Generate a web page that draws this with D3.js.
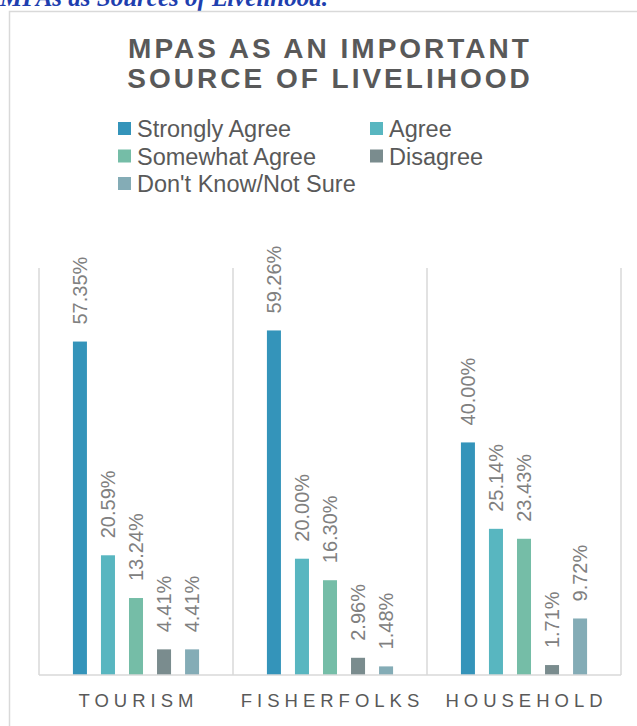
<!DOCTYPE html>
<html><head><meta charset="utf-8">
<script src="https://cdn.jsdelivr.net/npm/d3@7"></script>
<style>body{margin:0;background:#fff;overflow:hidden}</style>
</head><body>
<svg id="c" width="637" height="726"></svg>
<script>
const categories = ["TOURISM", "FISHERFOLKS", "HOUSEHOLD"];
const seriesNames = ["Strongly Agree", "Agree", "Somewhat Agree", "Disagree", "Don't Know/Not Sure"];
const stronglyAgree = [57.35, 59.26, 40.00];
const agree = [20.59, 20.00, 25.14];
const somewhatAgree = [13.24, 16.30, 23.43];
const disagree = [4.41, 2.96, 1.71];
const dontKnow = [4.41, 1.48, 9.72];
const colors = ["#3494BA", "#58B6C0", "#75BDA7", "#7A8C8E", "#84ACB6"];
const seriesValues = [stronglyAgree, agree, somewhatAgree, disagree, dontKnow];

(function () {
const svg = d3.select("#c");
const txt = "#595959";
const sans = "Liberation Sans, Arial, sans-serif";

// caption above chart (cropped at top)
svg.append("text").attr("x", 0).attr("y", 6)
  .attr("font-family", "Liberation Serif, serif").attr("font-weight", "bold")
  .attr("font-style", "italic").attr("font-size", 25).attr("fill", "#1F3FAF")
  .text("MPAs as Sources of Livelihood.");

// chart border
svg.append("rect").attr("x", 9.5).attr("y", 11.5).attr("width", 700).attr("height", 800)
  .attr("fill", "#fff").attr("stroke", "#d9d9d9").attr("stroke-width", 1.5);

// title
const tls = 3;
const title = svg.append("text").attr("text-anchor", "middle")
  .attr("font-family", sans).attr("font-weight", "bold")
  .attr("font-size", 28).attr("fill", txt).attr("letter-spacing", tls);
title.append("tspan").attr("x", 328.5 + tls / 2).attr("y", 58).text("MPAS AS AN IMPORTANT");
title.append("tspan").attr("x", 328.5 + tls / 2).attr("y", 88).text("SOURCE OF LIVELIHOOD");

// legend
const legendPos = [[118, 137], [370, 137], [118, 164.5], [370, 164.5], [118, 192]];
seriesNames.forEach((n, i) => {
  const [lx, ly] = legendPos[i];
  svg.append("rect").attr("x", lx).attr("y", ly - 15).attr("width", 13).attr("height", 13).attr("fill", colors[i]);
  svg.append("text").attr("x", lx + 19).attr("y", ly)
    .attr("font-family", sans).attr("font-size", 23.5)
    .attr("fill", txt).text(n);
});

// plot
const pLeft = 39, pRight = 621, pTop = 268, pBottom = 675;
const x0 = d3.scaleBand().domain(categories).range([pLeft, pRight]).padding(0);
const x1 = d3.scaleBand().domain(d3.range(seriesNames.length)).range([0, x0.bandwidth()]).paddingInner(0.5).paddingOuter(1.21);
const y = d3.scaleLinear().domain([0, 70]).range([pBottom, pTop]);

const sep = categories.map(c => x0(c)).concat([pRight]);
svg.selectAll(".sep").data(sep).enter().append("line")
  .attr("x1", d => d).attr("x2", d => d).attr("y1", pTop).attr("y2", pBottom)
  .attr("stroke", "#d9d9d9").attr("stroke-width", 1.5);

categories.forEach((c, ci) => {
  seriesValues.forEach((vals, si) => {
    const bx = x0(c) + x1(si);
    const bw = x1.bandwidth();
    svg.append("rect").attr("x", bx).attr("y", y(vals[ci]))
      .attr("width", bw).attr("height", pBottom - y(vals[ci])).attr("fill", colors[si]);
    svg.append("text")
      .attr("transform", `translate(${bx + bw / 2 + 7},${y(vals[ci]) - 17}) rotate(-90)`)
      .attr("font-family", sans).attr("font-size", 20)
      .attr("fill", "#808080").text(vals[ci].toFixed(2) + "%");
  });
});

svg.append("line").attr("x1", pLeft).attr("x2", pRight).attr("y1", pBottom).attr("y2", pBottom)
  .attr("stroke", "#d9d9d9").attr("stroke-width", 1.5);

const cls = 5;
svg.selectAll(".cat").data(categories).enter().append("text")
  .attr("x", d => x0(d) + x0.bandwidth() / 2 + cls / 2).attr("y", 707)
  .attr("text-anchor", "middle").attr("font-family", sans)
  .attr("font-size", 18.5).attr("letter-spacing", cls).attr("fill", txt).text(d => d);
})();
</script>
</body></html>
